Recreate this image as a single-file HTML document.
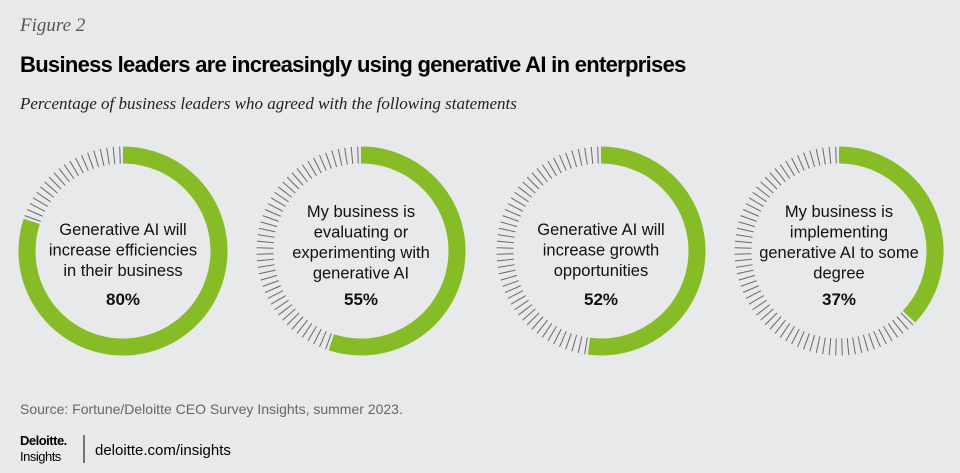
<!DOCTYPE html>
<html><head><meta charset="utf-8"><style>
body{margin:0;background:#e8e9ea;width:960px;height:473px;overflow:hidden;font-family:"Liberation Sans",sans-serif;}
svg{display:block}
</style></head><body>
<svg width="960" height="473" viewBox="0 0 960 473">
<rect width="960" height="473" fill="#e8e9ea"/>
<text x="20" y="31" font-family="Liberation Serif,serif" font-style="italic" font-size="19" fill="#555">Figure 2</text>
<text x="20" y="72" font-family="Liberation Sans,sans-serif" font-weight="bold" font-size="22" letter-spacing="-0.7" fill="#000">Business leaders are increasingly using generative AI in enterprises</text>
<text x="20" y="109" font-family="Liberation Serif,serif" font-style="italic" font-size="17" fill="#222">Percentage of business leaders who agreed with the following statements</text>
<g id="donuts"></g>
<text x="20" y="414" font-size="14" fill="#666">Source: Fortune/Deloitte CEO Survey Insights, summer 2023.</text>
<text x="20" y="445" font-size="13" font-weight="bold" fill="#000" letter-spacing="-0.5">Deloitte.</text>
<text x="20" y="461" font-size="13" fill="#000" letter-spacing="-0.5">Insights</text>
<line x1="84" y1="435" x2="84" y2="463" stroke="#000" stroke-width="1"/>
<text x="95" y="455" font-size="15" fill="#000">deloitte.com/insights</text>
</svg>
<script>
const categories=[["Generative AI will","increase efficiencies","in their business"],["My business is","evaluating or","experimenting with","generative AI"],["Generative AI will","increase growth","opportunities"],["My business is","implementing","generative AI to some","degree"]];
const values=[80,55,52,37];
const labels=["80%","55%","52%","37%"];
const NS="http://www.w3.org/2000/svg";
const g=document.getElementById('donuts');
const cxs=[123,361,601,839], cy=251, R=96, W=17;
function mk(t,a){const e=document.createElementNS(NS,t);for(const k in a)e.setAttribute(k,a[k]);return e;}
values.forEach((v,i)=>{
  const cx=cxs[i];
  const grp=mk('g',{});
  
  
  const end=v/100*360;
  for(let p=v;p<100;p++){
    const d=(p+0.5)/100*360, a=(d-90)*Math.PI/180;
    const r1=R-W/2, r2=R+W/2;
    const l=mk('line',{x1:cx+r1*Math.cos(a),y1:cy+r1*Math.sin(a),x2:cx+r2*Math.cos(a),y2:cy+r2*Math.sin(a),stroke:'#6a6a6a','stroke-width':1});
    
    
    grp.appendChild(l);
  }
  const a1=(end-90)*Math.PI/180;
  const large=end>180?1:0;
  const arc=mk('path',{d:`M${cx} ${cy-R} A${R} ${R} 0 ${large} 1 ${cx+R*Math.cos(a1)} ${cy+R*Math.sin(a1)}`,fill:'none',stroke:'#86bc25','stroke-width':W});
  
  
  grp.appendChild(arc);
  const lines=categories[i], lh=20.5;
  const y0=(lines.length===3?235:217);
  lines.forEach((s,j)=>{
    const t=mk('text',{x:cx,y:y0+j*lh,'text-anchor':'middle','font-size':16.5,fill:'#111'});
    t.textContent=s;
    
    
    grp.appendChild(t);
  });
  const pv=mk('text',{x:cx,y:305,'text-anchor':'middle','font-size':17,'font-weight':'bold',fill:'#111'});
  pv.textContent=labels[i];
  
  
  grp.appendChild(pv);
  g.appendChild(grp);
});
</script>
</body></html>
